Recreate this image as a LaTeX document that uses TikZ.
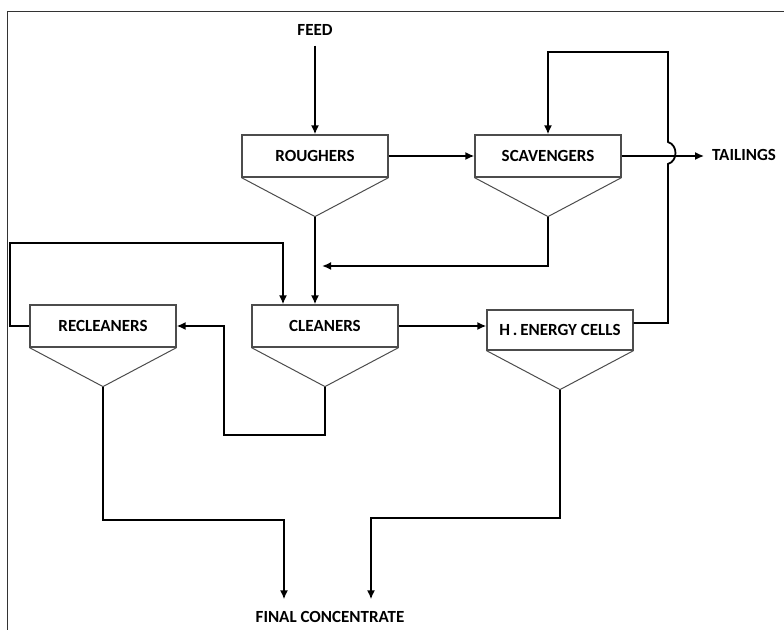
\documentclass[tikz,border=0pt]{standalone}
\usepackage{fontspec}
\setmainfont{Carlito}
\usetikzlibrary{arrows.meta}
\tikzset{
  cell/.style={draw=black!70, line width=0.6pt, minimum width=73pt, minimum height=21pt,
    font=\bfseries\fontsize{8.5}{10}\selectfont},
  hopper/.style={draw=black!70, line width=0.5pt},
  flow/.style={line width=0.9pt, -{Latex[length=4.5pt,width=4pt]}},
  label/.style={font=\bfseries\fontsize{8.5}{10}\selectfont, inner sep=1pt},
}
\begin{document}
\begin{tikzpicture}[x=0.5pt,y=-0.5pt]
    \useasboundingbox (0,0) rectangle (784,630);
    % frame
    \draw[line width=0.5pt, black!80] (8,630) -- (8,12) -- (784,12);
    % cells
    \node[cell] (rough) at (315,156) {ROUGHERS};
    \node[cell] (scav) at (548,156) {SCAVENGERS};
    \node[cell] (clean) at (325,326) {CLEANERS};
    \node[cell] (reclean) at (103,326) {RECLEANERS};
    \node[cell, minimum height=20pt] (hec) at (560,330) {H\,.\,ENERGY CELLS};
    \foreach \c in {rough,scav,clean,reclean,hec}
        \draw[hopper] (\c.south west) -- ([yshift=-19.5pt]\c.south) coordinate (\c-apex) -- (\c.south east);
    % streams
    \node[label, outer sep=4pt] (feed) at (315,30) {FEED};
    \node[label, outer sep=3pt] (tail) at (744,155) {TAILINGS};
    \node[label, outer sep=5pt] (final) at (330,617) {FINAL CONCENTRATE};
    \coordinate (merge) at (322,266);
    \coordinate (loopL) at (10,243);
    \coordinate (loopR) at (283,243);
    \coordinate (back) at (224,435);
    \coordinate (hopB) at (668,164);
    \coordinate (hopT) at (668,142);
    \coordinate (topR) at (668,52);
    \coordinate (fcL) at (284,520);
    \coordinate (fcR) at (371,518);
    \draw[flow] (feed) -- (rough);
    \draw[flow] (rough) -- (scav);
    \draw[flow] (scav.east) -- (scav.east -| tail.west);
    \draw[flow] (rough-apex) -- (rough-apex |- clean.north);
    \draw[flow] (scav-apex) |- (merge);
    \draw[flow] (reclean.west) -| (loopL) -- (loopR) -- (loopR |- clean.north);
    \draw[flow] (clean.east) -- (clean.east -| hec.west);
    \draw[flow] (clean-apex) |- (back) |- (reclean.east);
    \draw[flow] ([yshift=3.5pt]hec.east) -| (hopB) .. controls +(10,-3) and +(10,3) .. (hopT)
        -- (topR) -| (scav.north);
    \draw[flow] (reclean-apex) |- (fcL) -- (fcL |- final.north);
    \draw[flow] (hec-apex) |- (fcR) -- (fcR |- final.north);
\end{tikzpicture}
\end{document}
